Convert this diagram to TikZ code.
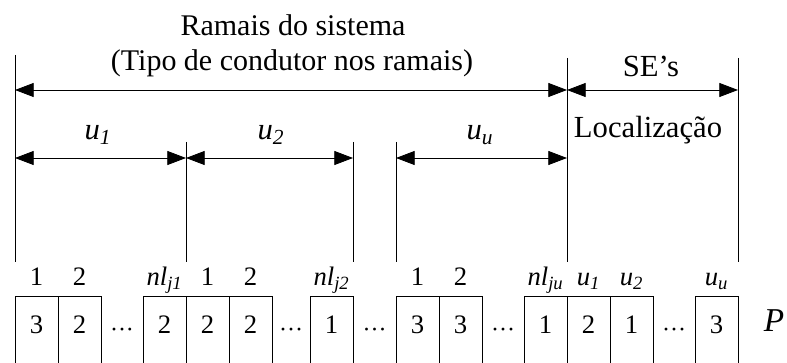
\documentclass[tikz,border=0pt]{standalone}
\usepackage{fontspec}
\setmainfont{Liberation Serif}
\usetikzlibrary{arrows.meta}
\newcommand{\itsub}[2]{\textit{#1}\textsubscript{\textit{#2}}}

\begin{document}
\begin{tikzpicture}[x=0.75pt, y=-0.75pt, line width=0.6pt,
  >={Triangle[length=14pt,width=10.5pt]},
  cell/.style={draw, anchor=north, minimum width=32.25pt, inner xsep=0pt,
    inner ysep=15pt, text height=13pt, text depth=9pt,
    font=\fontsize{20}{24}\selectfont},
  idx/.style={anchor=base, inner sep=0pt, font=\fontsize{20}{24}\selectfont},
  dots/.style={anchor=base, inner sep=0pt, font=\fontsize{18}{20}\selectfont},
  span/.style={anchor=base, inner sep=0pt, font=\fontsize{23}{27}\selectfont},
  head/.style={anchor=base, inner sep=0pt, font=\fontsize{22.5}{27}\selectfont}]
  \useasboundingbox (0,0) rectangle (787,363);

  % limits of the groups
  \coordinate (t0) at (15,55);   \coordinate (f0) at (15,262);
  \coordinate (t1) at (186,142); \coordinate (f1) at (186,262);
  \coordinate (t2) at (353,142); \coordinate (f2) at (353,262);
  \coordinate (t3) at (396,142); \coordinate (f3) at (396,262);
  \coordinate (t4) at (567,58);  \coordinate (f4) at (567,262);
  \coordinate (t5) at (738,58);  \coordinate (f5) at (738,262);
  \draw (t0) -- (f0);
  \draw (t1) -- (f1);
  \draw (t2) -- (f2);
  \draw (t3) -- (f3);
  \draw (t4) -- (f4);
  \draw (t5) -- (f5);

  \coordinate (a0) at (15,90);
  \coordinate (a4) at (567,90);
  \coordinate (a5) at (738,90);
  \coordinate (s0) at (15,158);
  \coordinate (s1) at (186,158);
  \coordinate (s2) at (353,158);
  \coordinate (s3) at (396,158);
  \coordinate (s4) at (567,158);
  \draw[<->] (a0) -- (a4);
  \draw[<->] (a4) -- (a5);
  \draw[<->] (s0) -- (s1);
  \draw[<->] (s1) -- (s2);
  \draw[<->] (s3) -- (s4);

  \node[head] (ramais) at (293,36) {Ramais do sistema};
  \node[head] (tipo) at (292,71) {(Tipo de condutor nos ramais)};
  \node[span] (se) at (651,77) {SE’s};
  \node[span] (local) at (648,138) {Localização};
  \node[span] (u1) at (98,140) {\itsub{u}{1}};
  \node[span] (u2) at (271,140) {\itsub{u}{2}};
  \node[span] (uu) at (480,140) {\itsub{u}{u}};

  % the chromosome
  \node[cell] (b1) at (36.5,296) {3};
  \node[cell] (b2) at (79.5,296) {2};
  \node[cell] (b3) at (164.5,296) {2};
  \node[cell] (b4) at (207.5,296) {2};
  \node[cell] (b5) at (250.5,296) {2};
  \node[cell] (b6) at (331.5,296) {1};
  \node[cell] (b7) at (417.5,296) {3};
  \node[cell] (b8) at (460.5,296) {3};
  \node[cell] (b9) at (545.5,296) {1};
  \node[cell] (b10) at (588.5,296) {2};
  \node[cell] (b11) at (631.5,296) {1};
  \node[cell] (b12) at (716.5,296) {3};

  \node[dots] (d1) at (122,337) {···};
  \node[dots] (d2) at (291,337) {···};
  \node[dots] (d3) at (374.5,337) {···};
  \node[dots] (d4) at (503,337) {···};
  \node[dots] (d5) at (674,337) {···};

  \node[idx] (n1) at (36.5,285) {1};
  \node[idx] (n2) at (79.5,285) {2};
  \node[idx] (n3) at (164.5,285) {\itsub{nl}{j1}};
  \node[idx] (n4) at (207.5,285) {1};
  \node[idx] (n5) at (250.5,285) {2};
  \node[idx] (n6) at (331.5,285) {\itsub{nl}{j2}};
  \node[idx] (n7) at (417.5,285) {1};
  \node[idx] (n8) at (460.5,285) {2};
  \node[idx] (n9) at (545.5,285) {\itsub{nl}{ju}};
  \node[idx] (n10) at (588.5,285) {\itsub{u}{1}};
  \node[idx] (n11) at (631.5,285) {\itsub{u}{2}};
  \node[idx] (n12) at (716.5,285) {\itsub{u}{u}};

  \node[anchor=base, inner sep=0pt, font=\fontsize{25}{30}\itshape] (p) at (774,331) {P};
\end{tikzpicture}
\end{document}
